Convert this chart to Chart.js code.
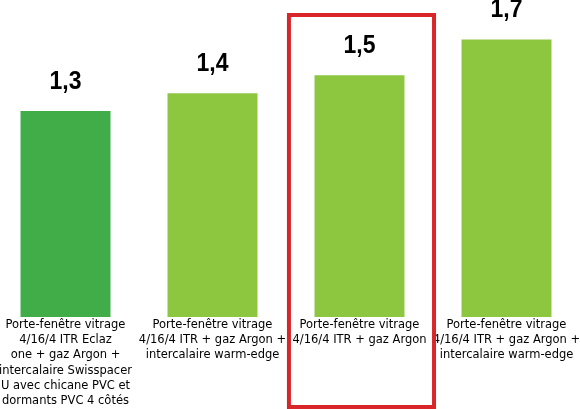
<!DOCTYPE html>
<html>
<head>
<meta charset="utf-8">
<script src="https://cdn.jsdelivr.net/npm/chart.js@4/dist/chart.umd.min.js"></script>
<style>
html,body{margin:0;padding:0;background:#fff;overflow:hidden;width:580px;height:409px;}
#wrap{position:absolute;left:-8px;top:0;width:588px;height:409px;}
</style>
</head>
<body>
<div id="wrap"><canvas id="c"></canvas></div>
<script>
const categories = [
  ["Porte-fenêtre vitrage", "4/16/4 ITR Eclaz", "one + gaz Argon +", "intercalaire Swisspacer", "U avec chicane PVC et", "dormants PVC 4 côtés"],
  ["Porte-fenêtre vitrage", "4/16/4 ITR + gaz Argon +", "intercalaire warm-edge"],
  ["Porte-fenêtre vitrage", "4/16/4 ITR + gaz Argon"],
  ["Porte-fenêtre vitrage", "4/16/4 ITR + gaz Argon +", "intercalaire warm-edge"]
];
const values = [1.3, 1.4, 1.5, 1.7];
const valueLabels = ["1,3", "1,4", "1,5", "1,7"];
const barColors = ["#41ad49", "#8dc63f", "#8dc63f", "#8dc63f"];
const highlightIndex = 2;

const labelPlugin = {
  id: 'valueLabels',
  afterDatasetsDraw(chart) {
    const ctx = chart.ctx;
    const meta = chart.getDatasetMeta(0);
    ctx.save();
    ctx.fillStyle = '#000';
    ctx.font = 'bold 25px "Liberation Sans", Arial, sans-serif';
    ctx.textAlign = 'center';
    ctx.textBaseline = 'alphabetic';
    meta.data.forEach((bar, i) => {
      ctx.save();
      ctx.translate(bar.x, bar.y - 22);
      ctx.scale(0.92, 1);
      ctx.fillText(valueLabels[i], 0, 0);
      ctx.restore();
    });
    // highlight box
    const b = meta.data[highlightIndex];
    const xs = chart.scales.x;
    const w = xs.getPixelForValue(1) - xs.getPixelForValue(0);
    ctx.strokeStyle = '#d9262b';
    ctx.lineWidth = 4;
    const left = b.x - 0.48 * w;
    const right = b.x + 0.507 * w;
    ctx.strokeRect(left, 15, right - left, chart.height - 17);
    ctx.restore();
  }
};

new Chart(document.getElementById('c'), {
  type: 'bar',
  data: {
    labels: categories,
    datasets: [{
      data: values,
      backgroundColor: barColors,
      borderWidth: 0,
      categoryPercentage: 1,
      barPercentage: 0.612
    }]
  },
  options: {
    responsive: true,
    maintainAspectRatio: false,
    animation: false,
    layout: { padding: 0 },
    plugins: { legend: { display: false }, tooltip: { enabled: false } },
    scales: {
      y: {
        display: false,
        min: 0.15,
        max: 1.92
      },
      x: {
        grid: { display: false, drawTicks: false },
        border: { display: false },
        afterFit(scale) { scale.height = 92; scale.paddingLeft = 0; scale.paddingRight = 0; },
        ticks: {
          color: '#000',
          padding: 0,
          maxRotation: 0,
          minRotation: 0,
          autoSkip: false,
          font: { family: '"DejaVu Sans", sans-serif', size: 11.5, lineHeight: 1.33 }
        }
      }
    }
  },
  plugins: [labelPlugin]
});
</script>
</body>
</html>
